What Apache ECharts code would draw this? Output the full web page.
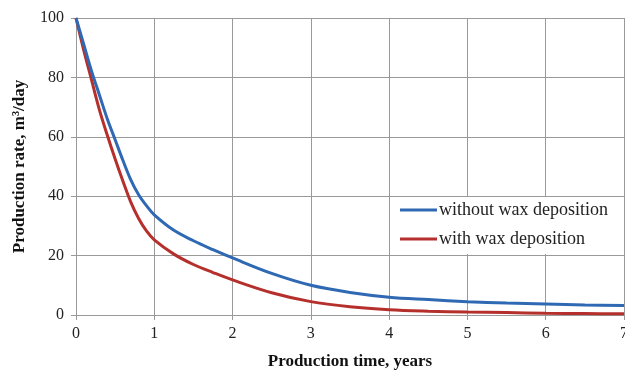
<!DOCTYPE html>
<html>
<head>
<meta charset="utf-8">
<script src="https://cdn.jsdelivr.net/npm/echarts@6/dist/echarts.min.js"></script>
<style>
html,body{margin:0;padding:0;background:#fff;}
#chart{width:625px;height:371px;}
</style>
</head>
<body>
<div id="chart"></div>
<script>
// Production time, years
const years = [0, 0.1, 0.2, 0.3, 0.4, 0.5, 0.6, 0.7, 0.8, 0.9, 1.0, 1.25, 1.5, 1.75, 2.0, 2.5, 3.0, 3.5, 4.0, 4.5, 5.0, 5.5, 6.0, 6.5, 7.0];
// Production rate, m3/day
const withoutWax = [100, 91, 82, 74, 66, 59, 52, 45.5, 40.5, 36.8, 33.7, 28.5, 25, 22, 19.2, 14, 10, 7.6, 6, 5.2, 4.5, 4.0, 3.7, 3.4, 3.2];
const withWax = [100, 89, 79, 69, 60.5, 52.5, 45, 38, 32.5, 28.3, 25.3, 20.5, 17, 14.3, 11.8, 7.5, 4.5, 2.8, 1.8, 1.3, 1.0, 0.8, 0.6, 0.5, 0.4];
const seriesNames = ['without wax deposition', 'with wax deposition'];

const pairs = (xs, ys) => xs.map((x, i) => [x, ys[i]]);
const serif = '"Liberation Serif", "Times New Roman", serif';
const gridColor = '#9a9a9a';

const chart = echarts.init(document.getElementById('chart'));
chart.setOption({
  animation: false,
  backgroundColor: '#fff',
  grid: { left: 76, right: 1, top: 18, bottom: 56, containLabel: false, outerBoundsMode: 'none' },
  xAxis: {
    type: 'value', min: 0, max: 7, interval: 1,
    name: 'Production time, years', nameLocation: 'middle', nameGap: 38,
    nameTextStyle: { fontFamily: serif, fontWeight: 'bold', fontSize: 17, color: '#111' },
    axisLine: { show: true, lineStyle: { color: gridColor, width: 1 } },
    axisTick: { show: true, length: 5, lineStyle: { color: gridColor } },
    axisLabel: { fontFamily: serif, fontSize: 16, color: '#222', margin: 11, showMaxLabel: true },
    splitLine: { show: true, lineStyle: { color: gridColor, width: 1 } }
  },
  yAxis: {
    type: 'value', min: 0, max: 100, interval: 20,
    name: 'Production rate, m\u00b3/day', nameLocation: 'middle', nameGap: 48,
    nameTextStyle: { fontFamily: serif, fontWeight: 'bold', fontSize: 17, color: '#111' },
    axisLine: { show: true, lineStyle: { color: gridColor, width: 1 } },
    axisTick: { show: true, length: 5, lineStyle: { color: gridColor } },
    axisLabel: { fontFamily: serif, fontSize: 16, color: '#222', margin: 12 },
    splitLine: { show: true, lineStyle: { color: gridColor, width: 1 } }
  },
  legend: {
    orient: 'vertical', left: 392, top: 197,
    backgroundColor: '#fff', padding: [4, 8, 6, 8], itemGap: 11,
    icon: 'rect', itemWidth: 37, itemHeight: 3,
    textStyle: { fontFamily: serif, fontSize: 18, color: '#222', padding: [0, 0, 0, -3] },
    data: seriesNames
  },
  series: [
    {
      name: seriesNames[0], type: 'line', smooth: 0.35, showSymbol: false,
      data: pairs(years, withoutWax), z: 3,
      lineStyle: { color: '#2f69b3', width: 3 }, itemStyle: { color: '#2f69b3' }
    },
    {
      name: seriesNames[1], type: 'line', smooth: 0.35, showSymbol: false,
      data: pairs(years, withWax), z: 2,
      lineStyle: { color: '#b5302c', width: 3 }, itemStyle: { color: '#b5302c' }
    }
  ]
});
</script>
</body>
</html>
